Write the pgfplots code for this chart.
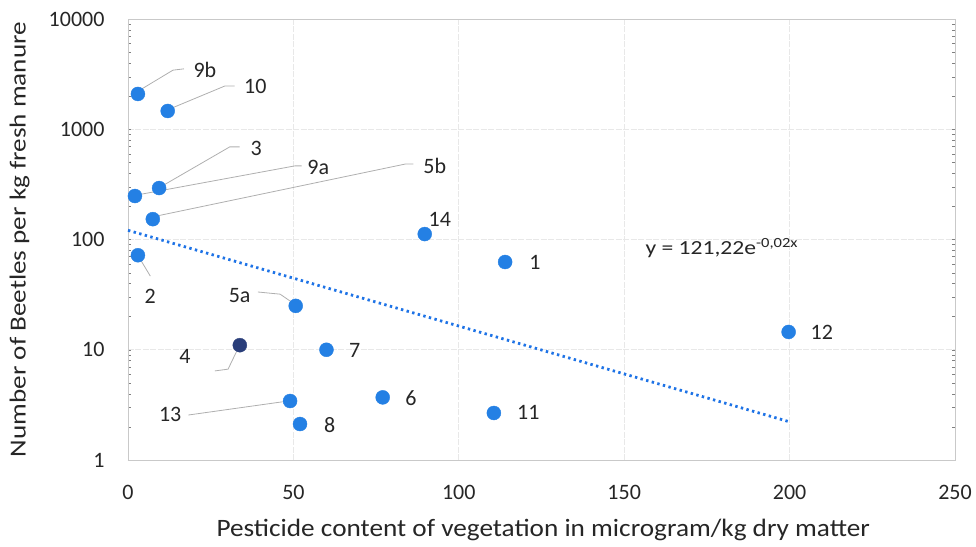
\documentclass[border=0pt]{standalone}
\usepackage{pgfplots}
\pgfplotsset{compat=1.18}
\usepackage{fontspec}
\setmainfont{Carlito}
\newfontfamily\widefont[FakeStretch=1.09]{Carlito}
\newfontfamily\ylabfont[FakeStretch=1.18]{Carlito}
\newfontfamily\eqfont[FakeStretch=1.18]{Carlito}
\definecolor{dotblue}{RGB}{36,128,228}
\definecolor{dotnavy}{RGB}{42,62,122}
\definecolor{trendblue}{RGB}{30,115,230}
\definecolor{leader}{RGB}{175,175,175}
\definecolor{gridc}{RGB}{232,232,232}
\begin{document}
\begin{tikzpicture}
\path[use as bounding box] (-128pt,-86pt) rectangle (848pt,460pt);
\begin{axis}[
  at={(0,0)}, anchor=south west,
  scale only axis, width=827pt, height=441pt,
  ymode=log, xmin=0, xmax=250, ymin=1, ymax=10000,
  xtick={0,50,100,150,200,250},
  xticklabels={0,50,100,150,200,250},
  ytick={1,10,100,1000,10000},
  yticklabels={1,10,100,1000,10000},
  minor ytick={},
  major tick length=0pt,
  /pgf/number format/assume math mode=true,
  xticklabel style={font=\fontsize{22}{24}\selectfont, text=black!85, yshift=-22pt},
  yticklabel style={font=\fontsize{22}{24}\selectfont, text=black!85, xshift=-20pt},
  grid=major,
  major grid style={gridc, line width=0.8pt, dash pattern=on 6pt off 1.5pt},
  axis line style={gridc!70!gray, line width=0.8pt},
  xlabel={Pesticide content of vegetation in microgram/kg dry matter},
  ylabel={Number of Beetles per kg fresh manure},
  xlabel style={font=\widefont\fontsize{25}{28}\selectfont, text=black!85, at={(axis description cs:0.502,-0.159)}, anchor=center},
  ylabel style={font=\ylabfont\fontsize{23}{26}\selectfont, text=black!85, at={(axis description cs:-0.131,0.5)}, anchor=center},
  clip=false,
]
% trend line (endpoints of y = 121.22 e^{-0.02x})
\addplot[trendblue, line width=2.8pt, dash pattern=on 2.4pt off 3.4pt] coordinates {(0,121.22) (200,2.22)};
% leader lines
\draw[leader, line width=0.8pt] (rel axis cs:0.0145,0.839) -- (rel axis cs:0.0544,0.884) -- (rel axis cs:0.0677,0.887);
\draw[leader, line width=0.8pt] (rel axis cs:0.053,0.798) -- (rel axis cs:0.117,0.848) -- (rel axis cs:0.129,0.848);
\draw[leader, line width=0.8pt] (rel axis cs:0.041,0.621) -- (rel axis cs:0.123,0.710) -- (rel axis cs:0.135,0.710);
\draw[leader, line width=0.8pt] (rel axis cs:0.011,0.601) -- (rel axis cs:0.202,0.667) -- (rel axis cs:0.210,0.667);
\draw[leader, line width=0.8pt] (rel axis cs:0.034,0.553) -- (rel axis cs:0.335,0.671) -- (rel axis cs:0.345,0.671);
\draw[leader, line width=0.8pt] (rel axis cs:0.0145,0.456) -- (rel axis cs:0.027,0.417);
\draw[leader, line width=0.8pt] (rel axis cs:0.157,0.381) -- (rel axis cs:0.184,0.376) -- (rel axis cs:0.201,0.354);
\draw[leader, line width=0.8pt] (rel axis cs:0.105,0.202) -- (rel axis cs:0.121,0.206) -- (rel axis cs:0.131,0.245);
\draw[leader, line width=0.8pt] (rel axis cs:0.073,0.102) -- (rel axis cs:0.187,0.132);
% points
\addplot[only marks, mark=*, mark size=7pt, mark options={draw=dotblue, fill=dotblue}] coordinates {
(3,2090) (12,1465) (9.4,293) (2.1,248) (7.5,153) (3,72) (89.7,112) (114,62.5)
(50.7,25) (60,10) (199.7,14.5) (77,3.7) (110.6,2.67) (49,3.43) (52,2.12)};
\addplot[only marks, mark=*, mark size=7pt, mark options={draw=dotnavy, fill=dotnavy}] coordinates {(33.8,11)};
% point labels
\begin{scope}[every node/.style={font=\fontsize{22}{24}\selectfont, text=black!85, inner sep=0pt}]
\node at (rel axis cs:0.093,0.884) {9b};
\node at (rel axis cs:0.154,0.846) {10};
\node at (rel axis cs:0.155,0.707) {3};
\node at (rel axis cs:0.230,0.664) {9a};
\node at (rel axis cs:0.371,0.667) {5b};
\node at (rel axis cs:0.027,0.370) {2};
\node at (rel axis cs:0.135,0.374) {5a};
\node at (rel axis cs:0.069,0.234) {4};
\node at (rel axis cs:0.051,0.104) {13};
\node at (rel axis cs:0.377,0.546) {14};
\node at (rel axis cs:0.492,0.449) {1};
\node at (rel axis cs:0.274,0.249) {7};
\node at (rel axis cs:0.342,0.141) {6};
\node at (rel axis cs:0.484,0.107) {11};
\node at (rel axis cs:0.839,0.290) {12};
\node at (rel axis cs:0.244,0.079) {8};
\end{scope}
\node[font=\eqfont\fontsize{20}{22}\selectfont, text=black!85, inner sep=0pt] at (rel axis cs:0.718,0.481) {y = 121,22e\textsuperscript{-0,02x}};
\end{axis}
\end{tikzpicture}
\end{document}
